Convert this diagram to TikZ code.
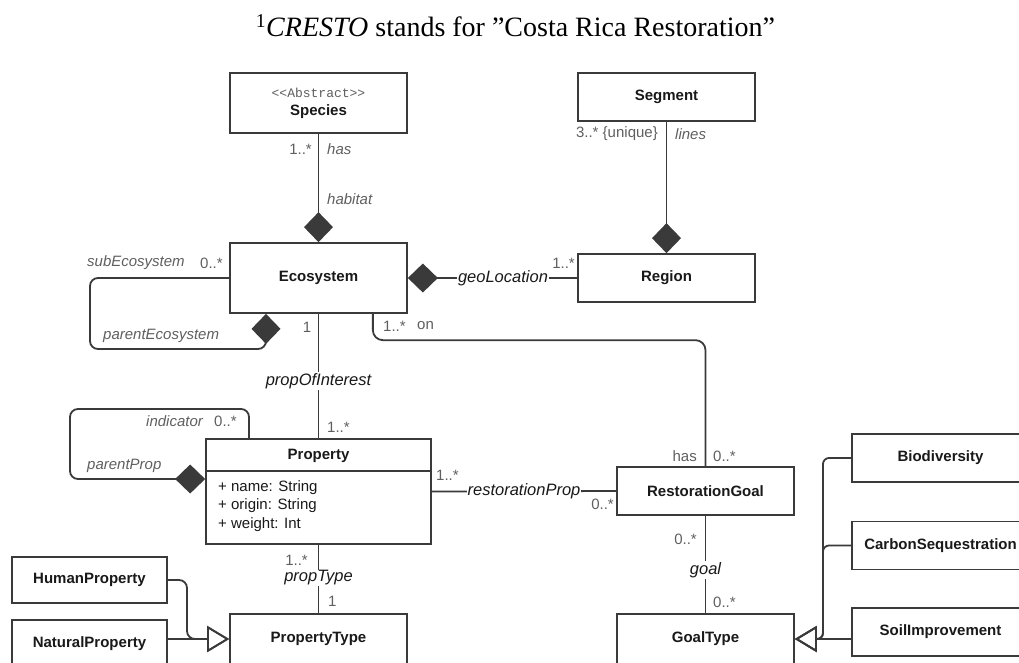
\documentclass[tikz,border=0pt]{standalone}
\usepackage{fontspec}
\setmainfont{Liberation Serif}
\setsansfont{Liberation Sans}
\setmonofont{Liberation Mono}
\usetikzlibrary{arrows.meta}
\definecolor{umlline}{RGB}{58,58,58}
\definecolor{umltext}{RGB}{25,25,25}
\definecolor{umlmult}{RGB}{95,95,95}
\begin{document}
\begin{tikzpicture}[x=1pt,y=1pt]
	\tikzset{cls/.style={rectangle, draw=umlline, line width=1.7pt, fill=white, minimum width=177pt, minimum height=48pt, inner sep=0pt, text=umltext, font=\sffamily\bfseries\fontsize{15}{18}\selectfont}};
	\tikzset{mult/.style={inner sep=0pt, text=umlmult, font=\sffamily\fontsize{15}{18}\selectfont}};
	\tikzset{role/.style={inner sep=0pt, text=umlmult, font=\sffamily\itshape\fontsize{15}{18}\selectfont}};
	\tikzset{assoc/.style={inner sep=1pt, fill=white, text=umltext, font=\sffamily\itshape\fontsize{16.5}{18}\selectfont}};
	\tikzset{link/.style={draw=umlline, line width=1.8pt}};
	\tikzset{comp/.style={link, {Diamond[length=30pt,width=29pt]}-}};
	\tikzset{gen/.style={link, -{Triangle[open,length=22pt,width=26pt]}}};
	\useasboundingbox (0,0) rectangle (1019,-662);
	\clip (0,0) rectangle (1019,-662);

	\node[font=\fontsize{28}{32}\selectfont] (title) at (515.5,-26) {\textsuperscript{1}\textit{CRESTO} stands for ”Costa Rica Restoration”};

	\node[cls, minimum height=60pt, align=center] (species) at (318.5,-103) {{\ttfamily\mdseries\fontsize{13}{15}\selectfont\color{umlmult}<{}<Abstract>{}>}\\Species};
	\node[cls] (segment) at (666.5,-97) {Segment};
	\node[cls, minimum height=70pt] (eco) at (318.5,-278) {Ecosystem};
	\node[cls] (region) at (666.5,-278) {Region};
	\node[cls, minimum width=225pt, minimum height=105pt] (prop) at (318.5,-491.5) {};
	\node[inner sep=0pt, text=umltext, font=\sffamily\bfseries\fontsize{15}{18}\selectfont] (proptitle) at (318.5,-455.5) {Property};
	\node[mult, text=umltext, anchor=west, align=left, font=\sffamily\fontsize{15}{18.3}\selectfont] (propattr) at (218,-506) {+ name: String\\+ origin: String\\+ weight: Int};
	\node[cls] (rgoal) at (705.5,-491) {RestorationGoal};
	\node[cls, minimum height=50pt] (gtype) at (705.5,-639) {GoalType};
	\node[cls, minimum height=50pt] (ptype) at (318.5,-639) {PropertyType};
	\node[cls, minimum width=155pt, minimum height=46pt] (human) at (89.5,-580) {HumanProperty};
	\node[cls, minimum width=155pt] (natural) at (89.5,-644) {NaturalProperty};
	\node[cls] (bio) at (940.5,-458) {Biodiversity};
	\node[cls] (carbon) at (940.5,-545.5) {CarbonSequestration};
	\node[cls] (soil) at (940.5,-632) {SoilImprovement};

	\draw ([yshift=-33pt]prop.north west) -- ([yshift=-33pt]prop.north east) [link];

	% associations
	\draw[comp] (eco.north) -- (species.south);
	\draw[comp] (region.north) -- (segment.south);
	\draw[comp] (eco.east) -- (region.west);
	\draw[link] (eco.south) -- (prop.north);
	\draw[link] (prop.east) -- (rgoal.west);
	\draw[link] (prop.south) -- (ptype.north);
	\draw[link] (rgoal.south) -- (gtype.north);
	\path (rgoal.north) ++(0,126) coordinate (onbend);
	\draw[link, rounded corners=10pt] ([xshift=-35pt]eco.south east) |- (onbend) -- (rgoal.north);
	\coordinate (ecoloop) at (90,-349);
	\draw[comp, rounded corners=8pt] ([xshift=-52.5pt]eco.south) |- (ecoloop) |- (eco.west);
	\coordinate (proploop) at (70,-409);
	\draw[comp, rounded corners=8pt] ([yshift=12.5pt]prop.west) -| (proploop) -| ([xshift=-69.5pt]prop.north);

	% generalisations
	\coordinate (ptrunk) at (187,-639);
	\coordinate (gtrunk) at (823,-639);
	\draw[gen, rounded corners=8pt] (human.east) -| (ptrunk) -- (ptype.west);
	\draw[gen] (natural.east |- ptype.west) -- (ptype.west);
	\draw[gen, rounded corners=6pt] (bio.west) -| (gtrunk) -- (gtype.east);
	\draw[gen, rounded corners=6pt] (carbon.west) -| (gtrunk) -- (gtype.east);
	\draw[gen] (soil.west |- gtype.east) -- (gtype.east);

	% labels
	\node[mult, anchor=east] (m1) at (312,-149) {1..*};
	\node[role, anchor=west] (r1) at (327,-149) {has};
	\node[role, anchor=west] (r2) at (327,-199) {habitat};
	\node[mult, anchor=east] (m2) at (658,-134) {3..* \{unique\}};
	\node[role, anchor=west] (r3) at (675,-134) {lines};
	\node[assoc] (a1) at (503,-278) {geoLocation};
	\node[mult, anchor=east] (m3) at (575,-263) {1..*};
	\node[role, anchor=west] (r4) at (87,-263) {subEcosystem};
	\node[mult, anchor=west] (m4) at (200,-263) {0..*};
	\node[role, anchor=west] (r5) at (103,-336) {parentEcosystem};
	\node[mult] (m5) at (307,-327) {1};
	\node[mult, anchor=west] (m6) at (383,-326) {1..*};
	\node[mult, anchor=west] (r6) at (417,-326) {on};
	\node[assoc] (a2) at (318.5,-381) {propOfInterest};
	\node[mult, anchor=west] (m7) at (327,-427) {1..*};
	\node[role, anchor=west] (r7) at (146,-421) {indicator};
	\node[mult, anchor=west] (m8) at (214,-421) {0..*};
	\node[role, anchor=west] (r8) at (87,-466) {parentProp};
	\node[assoc] (a3) at (524,-491) {restorationProp};
	\node[mult, anchor=west] (m9) at (436,-475) {1..*};
	\node[mult, anchor=east] (m10) at (614,-504) {0..*};
	\node[mult, anchor=east] (r9) at (697,-456) {has};
	\node[mult, anchor=west] (m11) at (713,-456) {0..*};
	\node[mult, anchor=east] (m12) at (697,-539) {0..*};
	\node[assoc] (a4) at (705.5,-570) {goal};
	\node[mult, anchor=west] (m13) at (713,-602) {0..*};
	\node[mult, anchor=east] (m14) at (308,-560) {1..*};
	\node[assoc] (a5) at (318.5,-578) {propType};
	\node[mult, anchor=west] (m15) at (328,-601) {1};
\end{tikzpicture}
\end{document}
